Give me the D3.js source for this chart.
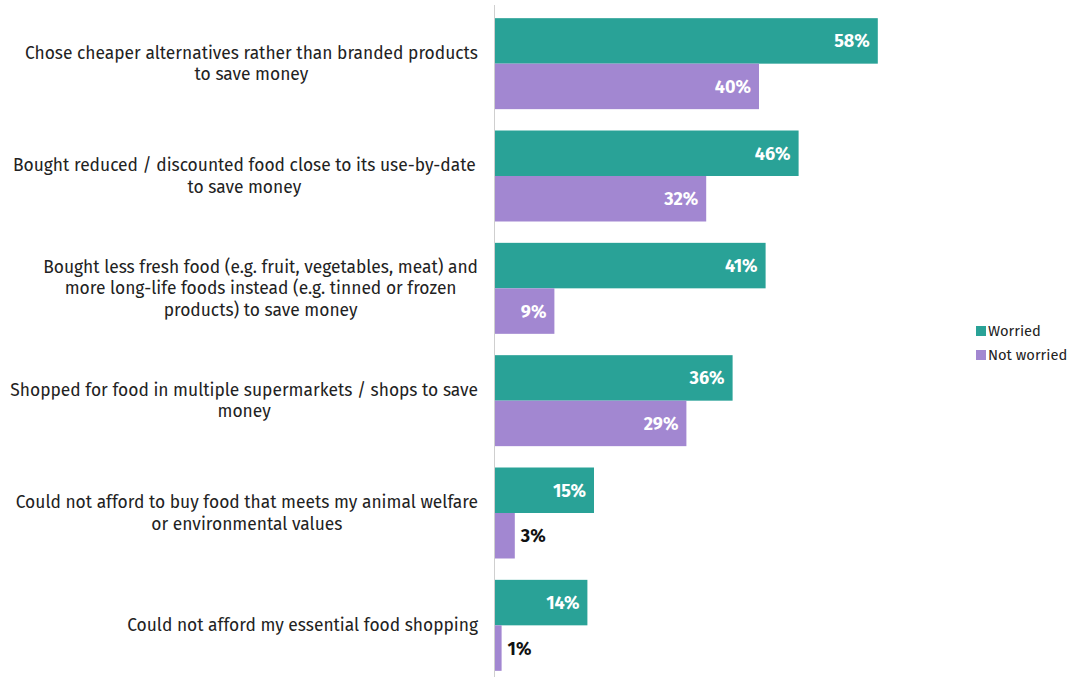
<!DOCTYPE html>
<html>
<head>
<meta charset="utf-8">
<script src="https://cdn.jsdelivr.net/npm/d3@7"></script>
<style>
  html, body { margin: 0; padding: 0; background: #fff; }
  svg { display: block; font-family: "Fira Sans", "Open Sans", sans-serif; }
  .cat { white-space: pre; }
</style>
</head>
<body>
<svg id="chart" width="1070" height="677"></svg>
<script>
// Survey actions, each split into its display lines
const categories = [
  ["Chose cheaper alternatives rather than branded products", "to save money"],
  ["Bought reduced / discounted food close to its use-by-date ", "to save money"],
  ["Bought less fresh food (e.g. fruit, vegetables, meat) and", "more long-life foods instead (e.g. tinned or frozen", "products) to save money"],
  ["Shopped for food in multiple supermarkets / shops to save", "money"],
  ["Could not afford to buy food that meets my animal welfare", "or environmental values"],
  ["Could not afford my essential food shopping"]
];
const seriesNames = ["Worried", "Not worried"];
const worried = [58, 46, 41, 36, 15, 14];
const notWorried = [40, 32, 9, 29, 3, 1];
const colors = ["#29a297", "#a287d1"];

const svg = d3.select("#chart");
const x0 = 495;
const x = d3.scaleLinear().domain([0, 100]).range([x0, x0 + 660]);
const keys = categories.map((c, i) => i);
const y = d3.scaleBand().domain(keys).range([7.5, 681.5]).paddingInner(0.19).paddingOuter(0.095);
const ySub = d3.scaleBand().domain(seriesNames).range([0, y.bandwidth()]);

const rows = keys.map(i => ({
  i,
  lines: categories[i],
  values: [
    { s: seriesNames[0], v: worried[i] },
    { s: seriesNames[1], v: notWorried[i] }
  ]
}));

const color = d3.scaleOrdinal().domain(seriesNames).range(colors);

const g = svg.append("g");
const groups = g.selectAll("g.row").data(rows).join("g")
  .attr("class", "row")
  .attr("transform", d => `translate(0,${y(d.i)})`);

groups.selectAll("rect").data(d => d.values).join("rect")
  .attr("x", x(0))
  .attr("y", d => ySub(d.s))
  .attr("width", d => x(d.v) - x(0))
  .attr("height", ySub.bandwidth())
  .attr("fill", d => color(d.s));

// Value labels: inside the bar when there is room, otherwise just after it
groups.selectAll("text.val").data(d => d.values).join("text")
  .attr("class", "val")
  .each(function (d) {
    const inside = x(d.v) - x(0) > 45;
    d3.select(this)
      .attr("x", inside ? x(d.v) - 8 : x(d.v) + 6)
      .attr("text-anchor", inside ? "end" : "start")
      .attr("fill", inside ? "#ffffff" : "#111111");
  })
  .attr("y", d => ySub(d.s) + ySub.bandwidth() / 2)
  .attr("dy", "0.36em")
  .attr("font-size", 18)
  .attr("font-weight", 700)
  .text(d => d.v + "%");

// Category labels: lines centred within a block whose right edge sits by the axis
const lineH = 21.5;
const labelRight = 478;
groups.each(function (d) {
  const grp = d3.select(this);
  const t = grp.append("text")
    .attr("class", "cat")
    .attr("font-size", 17.4)
    .attr("fill", "#222");
  const n = d.lines.length;
  const spans = d.lines.map((ln, k) => t.append("tspan")
    .attr("y", y.bandwidth() / 2 + (k - (n - 1) / 2) * lineH)
    .attr("dy", "0.35em")
    .text(ln));
  const widths = spans.map(s => s.node().getComputedTextLength());
  const w = d3.max(widths);
  const cx = labelRight - w / 2;
  spans.forEach(s => s.attr("x", cx).attr("text-anchor", "middle").text(s.text().trim()));
});

// Vertical baseline
svg.append("line")
  .attr("x1", 494.5).attr("x2", 494.5)
  .attr("y1", 5).attr("y2", 677)
  .attr("stroke", "#cfcfcf").attr("stroke-width", 1);

// Legend
const legend = svg.append("g").attr("transform", "translate(976,325)");
const li = legend.selectAll("g").data(seriesNames).join("g")
  .attr("transform", (d, i) => `translate(0,${i * 24})`);
li.append("rect").attr("width", 10).attr("height", 10).attr("y", 1).attr("fill", d => color(d));
li.append("text").attr("x", 12).attr("y", 6).attr("dy", "0.35em")
  .attr("font-size", 14.7).attr("fill", "#222").text(d => d);
</script>
</body>
</html>
